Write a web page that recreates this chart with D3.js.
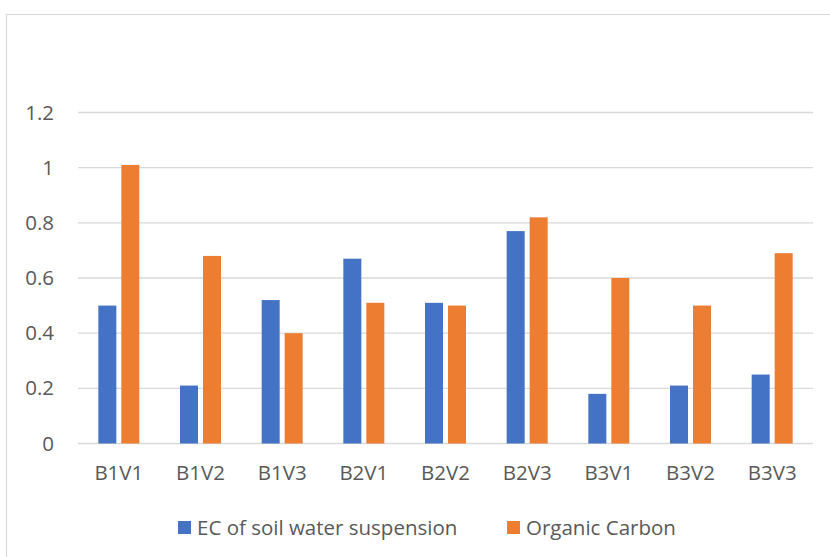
<!DOCTYPE html>
<meta charset="utf-8">
<script src="https://d3js.org/d3.v7.min.js"></script>
<style>
  body { margin: 0; background: #fff; }
  text { font-family: "Open Sans", "Noto Sans", sans-serif; fill: #595959; }
</style>
<div id="my_dataviz"></div>
<script>

// data
var categories = ["B1V1", "B1V2", "B1V3", "B2V1", "B2V2", "B2V3", "B3V1", "B3V2", "B3V3"];
var seriesNames = ["EC of soil water suspension", "Organic Carbon"];
var ecValues = [0.50, 0.21, 0.52, 0.67, 0.51, 0.77, 0.18, 0.21, 0.25];
var ocValues = [1.01, 0.68, 0.40, 0.51, 0.50, 0.82, 0.60, 0.50, 0.69];
var yTicks = [0, 0.2, 0.4, 0.6, 0.8, 1, 1.2];
var colors = ["#4472C4", "#ED7D31"];

var W = 830, H = 557, fs = "20.5px";
var margin = {top: 112.5, right: 17, bottom: 113.5, left: 78},
    width = W - margin.left - margin.right,
    height = H - margin.top - margin.bottom;

var svg = d3.select("#my_dataviz")
  .append("svg")
    .attr("width", W)
    .attr("height", H);

// chart border
svg.append("rect")
  .attr("x", 6.5).attr("y", 14.5)
  .attr("width", W + 20).attr("height", H + 20)
  .attr("fill", "none")
  .attr("stroke", "#d9d9d9")
  .attr("stroke-width", 1.2);

var g = svg.append("g")
  .attr("transform", "translate(" + margin.left + "," + margin.top + ")");

var y = d3.scaleLinear().domain([0, 1.2]).range([height, 0]);
var x0 = d3.scaleBand().domain(categories).range([0, width]).padding(0);
var groupW = 41;
var x1 = d3.scaleBand().domain(seriesNames).range([0, groupW]).paddingInner(0.217);

// gridlines
g.selectAll(".grid")
  .data(yTicks)
  .enter().append("line")
    .attr("x1", 0).attr("x2", width)
    .attr("y1", function(d) { return y(d); })
    .attr("y2", function(d) { return y(d); })
    .attr("stroke", "#d9d9d9")
    .attr("stroke-width", 1.3);

// y axis labels
var yAxis = g.append("g")
  .call(d3.axisLeft(y).tickValues(yTicks).tickSize(0).tickPadding(24)
    .tickFormat(function(d) { return String(d); }));
yAxis.select(".domain").remove();
yAxis.selectAll("text")
  .attr("font-size", fs)
  .style("font-family", '"Open Sans", "Noto Sans", sans-serif')
  .attr("fill", "#595959");

// bars
var rows = categories.map(function(c, i) { return {cat: c, vals: [ecValues[i], ocValues[i]]}; });
var groups = g.selectAll(".grp")
  .data(rows)
  .enter().append("g")
    .attr("transform", function(d) {
      return "translate(" + (x0(d.cat) + (x0.bandwidth() - groupW) / 2) + ",0)";
    });
groups.selectAll("rect")
  .data(function(d) { return d.vals.map(function(v, k) { return {name: seriesNames[k], v: v, k: k}; }); })
  .enter().append("rect")
    .attr("x", function(d) { return x1(d.name); })
    .attr("width", x1.bandwidth())
    .attr("y", function(d) { return y(d.v); })
    .attr("height", function(d) { return height - y(d.v); })
    .attr("fill", function(d) { return colors[d.k]; });

// x axis labels
var xAxis = g.append("g")
  .attr("transform", "translate(0," + height + ")")
  .call(d3.axisBottom(x0).tickSize(0).tickPadding(22));
xAxis.select(".domain").remove();
xAxis.selectAll("text")
  .attr("font-size", fs)
  .style("font-family", '"Open Sans", "Noto Sans", sans-serif')
  .attr("fill", "#595959");

// legend
var legendX = [178, 507];
var legend = svg.selectAll(".legend")
  .data(seriesNames)
  .enter().append("g")
    .attr("transform", function(d, i) { return "translate(" + legendX[i] + ",521)"; });
legend.append("rect")
  .attr("width", 13).attr("height", 13)
  .attr("fill", function(d, i) { return colors[i]; });
legend.append("text")
  .attr("x", 19).attr("y", 14)
  .attr("font-size", fs)
  .text(function(d) { return d; });

</script>
